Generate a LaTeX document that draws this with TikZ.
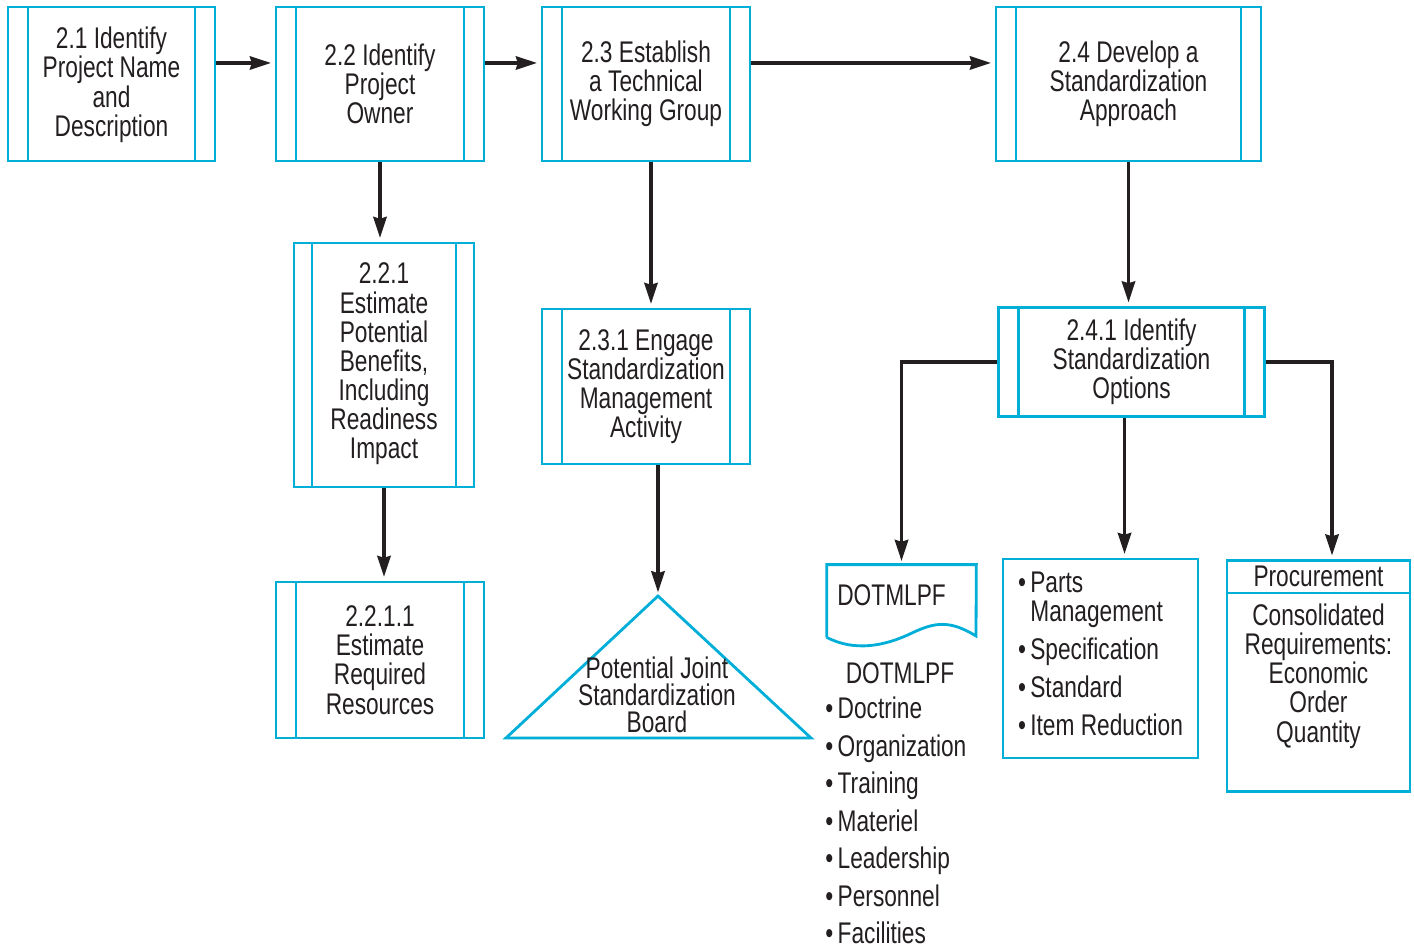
\documentclass[tikz,border=0pt]{standalone}
\usepackage{fontspec}
\setmainfont[FakeStretch=0.76]{Liberation Sans}
\usetikzlibrary{arrows.meta,calc}
\definecolor{stdcyan}{RGB}{0,174,216}
\definecolor{stdink}{RGB}{35,31,32}
\newcommand{\blt}{\textbullet\hspace{2.5pt}}

\begin{document}
\begin{tikzpicture}[x=0.02cm, y=-0.02cm,
  every node/.style={text=stdink, font=\fontsize{17pt}{16.6pt}\selectfont},
  procbox/.style={draw=stdcyan, line width=1.6pt, fill=white, align=center, inner sep=1pt,
    path picture={\draw[stdcyan, line width=1.6pt]
      ([xshift=0.4cm]path picture bounding box.north west) -- ([xshift=0.4cm]path picture bounding box.south west)
      ([xshift=-0.4cm]path picture bounding box.north east) -- ([xshift=-0.4cm]path picture bounding box.south east);}},
  plainbox/.style={draw=stdcyan, line width=1.6pt, fill=white, align=center, inner sep=2pt},
  cyanline/.style={draw=stdcyan, line width=1.6pt, line join=miter},
  arr/.style={-{Stealth[length=12pt, width=7.5pt, inset=1pt]}, line width=2.2pt, stdink, shorten >=2pt},
  listtext/.style={align=left, inner sep=0pt, font=\fontsize{17pt}{21.3pt}\selectfont}]
\useasboundingbox (0,0) rectangle (1414,949);

% top row
\node[procbox, minimum width=4.14cm, minimum height=3.08cm] (b21) at (111.5,84) {2.1 Identify\\Project Name\\and\\Description\\[-14pt]};
\node[procbox, minimum width=4.16cm, minimum height=3.08cm] (b22) at (380,84) {2.2 Identify\\Project\\Owner};
\node[procbox, minimum width=4.16cm, minimum height=3.08cm] (b23) at (646,84) {2.3 Establish\\a Technical\\Working Group};
\node[procbox, minimum width=5.3cm, minimum height=3.08cm] (b24) at (1128.5,84) {2.4 Develop a\\Standardization\\Approach};
\coordinate (toprow) at (0,63);

% second level
\node[procbox, minimum width=3.6cm, minimum height=4.88cm,
  path picture={\draw[stdcyan, line width=1.6pt]
      ([xshift=0.36cm]path picture bounding box.north west) -- ([xshift=0.36cm]path picture bounding box.south west)
      ([xshift=-0.36cm]path picture bounding box.north east) -- ([xshift=-0.36cm]path picture bounding box.south east);}]
  (b221) at (384,365) {2.2.1\\Estimate\\Potential\\Benefits,\\Including\\Readiness\\Impact\\[-12pt]};
\node[procbox, minimum width=4.16cm, minimum height=3.12cm] (b2211) at (380,660) {2.2.1.1\\Estimate\\Required\\Resources};
\node[procbox, minimum width=4.16cm, minimum height=3.1cm] (b231) at (646,386.5) {2.3.1 Engage\\Standardization\\Management\\Activity};
\node[procbox, minimum width=5.32cm, minimum height=2.18cm] (b241) at (1131.5,362) {2.4.1 Identify\\Standardization\\Options};

% joint board
\coordinate (apex) at (658,596);
\draw[cyanline] (apex) -- (811,738) -- (506,738) -- cycle;
\node[align=center, font=\fontsize{17pt}{15.4pt}\selectfont] (jsb) at (657,695) {Potential Joint\\Standardization\\Board};

% DOTMLPF document
\node[minimum width=2.98cm, minimum height=1.44cm, inner sep=0pt] (dotdoc) at (901.5,601) {};
\draw[cyanline] (dotdoc.south west) -- (dotdoc.north west) -- (dotdoc.north east) -- (976,636)
  .. controls (950,620) and (935,622) .. (912,633) .. controls (885,646) and (855,652) .. (dotdoc.south west);
\node[anchor=west, inner sep=0pt] (doctitle) at (837,595) {DOTMLPF};
\node (dothead) at (900,673) {DOTMLPF};
\node[listtext, anchor=north west] (dotlist) at (825,697)
  {\blt Doctrine\\\blt Organization\\\blt Training\\\blt Materiel\\\blt Leadership\\\blt Personnel\\\blt Facilities};

% parts and procurement
\node[plainbox, minimum width=3.9cm, minimum height=3.98cm, align=left] (parts) at (1100.5,658.5)
  {\blt Parts\\\hphantom{\blt}Management\\[5pt]\blt Specification\\[5pt]\blt Standard\\[5pt]\blt Item Reduction\\[-11pt]};
\node[plainbox, minimum width=3.66cm, minimum height=4.62cm] (proc) at (1318.5,676)
  {Consolidated\\Requirements:\\Economic\\Order\\Quantity};
\coordinate (procsplit) at (0,593);
\draw[cyanline] (proc.west |- procsplit) -- (proc.east |- procsplit);
\node (prochead) at (1318.5,576) {Procurement};

% connectors
\draw[arr] (b21.east |- toprow) -- (b22.west |- toprow);
\draw[arr] (b22.east |- toprow) -- (b23.west |- toprow);
\draw[arr] (b23.east |- toprow) -- (b24.west |- toprow);
\draw[arr] (b22.south) -- (b22.south |- b221.north);
\draw[arr] (b221.south) -- (b221.south |- b2211.north);
\draw[arr] ([xshift=0.1cm]b23.south) -- ([xshift=0.1cm]b23.south |- b231.north);
\draw[arr] (b231.south -| apex) -- (apex);
\draw[arr] (b24.south) -- (b24.south |- b241.north);
\draw[arr] (b241.west) -| (dotdoc.north);
\draw[arr] ([xshift=-0.14cm]b241.south) -- ([xshift=-0.14cm]b241.south |- parts.north);
\draw[arr] (b241.east) -| ([xshift=0.27cm]proc.north);
\end{tikzpicture}
\end{document}
